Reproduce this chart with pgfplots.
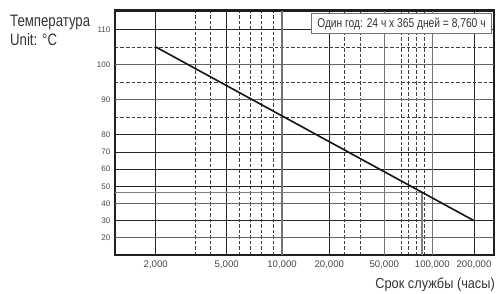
\documentclass[border=0pt]{standalone}
\usepackage{fontspec}
\setmainfont{Liberation Sans}
\newfontfamily\condfont{Liberation Sans}[FakeStretch=0.8]
\newfontfamily\condfontb{Liberation Sans}[FakeStretch=0.88]
\usepackage{pgfplots}
\pgfplotsset{compat=1.18}

\pgfplotsset{
  lifex/.style={
    x coord trafo/.code={%
      \begingroup
      \pgfkeys{/pgf/fpu=true,/pgf/fpu/output format=fixed}%
      \pgfmathparse{(##1<2000) ? (115+(##1-1000)*0.0407) :
       ((##1<3000) ? (155.7+(##1-2000)*0.0393) :
       ((##1<4000) ? (195+(##1-3000)*0.0157) :
       ((##1<5000) ? (210.7+(##1-4000)*0.016) :
       ((##1<6000) ? (226.7+(##1-5000)*0.0126) :
       ((##1<7000) ? (239.3+(##1-6000)*0.0107) :
       ((##1<8000) ? (250+(##1-7000)*0.0117) :
       ((##1<9000) ? (261.7+(##1-8000)*0.012) :
       ((##1<10000) ? (273.7+(##1-9000)*0.0083) :
       ((##1<20000) ? (282+(##1-10000)*0.00473) :
       ((##1<30000) ? (329.3+(##1-20000)*0.0015) :
       ((##1<40000) ? (344.3+(##1-30000)*0.00164) :
       ((##1<50000) ? (360.7+(##1-40000)*0.00236) :
       ((##1<60000) ? (384.3+(##1-50000)*0.00167) :
       ((##1<70000) ? (401+(##1-60000)*0.00073) :
       ((##1<80000) ? (408.3+(##1-70000)*0.00077) :
       ((##1<90000) ? (416+(##1-80000)*0.0008) :
       ((##1<100000) ? (424+(##1-90000)*0.00083) :
       ((##1<200000) ? (432.3+(##1-100000)*0.000417) :
       (474+(##1-200000)*0.0004)))))))))))))))))))))}%
      \pgfmathsmuggle\pgfmathresult
      \endgroup
    },
  },
  lifey/.style={
    y coord trafo/.code={%
      \begingroup
      \pgfkeys{/pgf/fpu=true,/pgf/fpu/output format=fixed}%
      \pgfmathparse{(##1<80) ? (##1) : (80+2.05*(##1-80))}%
      \pgfmathsmuggle\pgfmathresult
      \endgroup
    },
  },
}

\begin{document}
\begin{tikzpicture}
\useasboundingbox (0,0) rectangle (496pt,293pt);
\begin{axis}[
  lifex, lifey,
  at={(115pt,38pt)}, anchor=south west,
  scale only axis, width=379pt, height=244.3pt,
  xmin=1000, xmax=250000, ymin=10, ymax=115.3,
  xtick={2000,5000,20000,200000},
  xticklabels={{2,000},{5,000},{20,000},{200,000}},
  extra x ticks={10000,50000,100000},
  extra x tick labels={{10,000},{50,000},{100,000}},
  minor xtick={3000,4000,6000,7000,8000,9000,30000,40000,60000,70000,80000,90000},
  ytick={30,50,60,70,80,110},
  yticklabels={30,50,60,70,80,110},
  extra y ticks={20,40,90,100},
  extra y tick labels={20,40,90,100},
  minor ytick={85,95,105},
  grid=both,
  major grid style={black!85, line width=1pt},
  minor grid style={black!75, line width=0.8pt, dash pattern=on 3.5pt off 2pt},
  extra x tick style={grid=major, major grid style={black!55, line width=1.6pt}},
  extra y tick style={grid=major, major grid style={black!60, line width=1.2pt}},
  major tick length=0pt, minor tick length=0pt,
  axis line style={black!88, line width=2.6pt},
  tick label style={black!72},
  xticklabel style={font=\fontsize{9.6}{11}\selectfont, inner sep=0pt, anchor=north, yshift=-6pt},
  yticklabel style={font=\fontsize{8}{9}\selectfont, inner sep=0pt, anchor=east, xshift=-4.5pt},
  /pgf/number format/assume math mode=true,
]
\addplot[black!50, line width=1.4pt] coordinates {(1000,46.5) (87600,46.5) (87600,10)};
\addplot[black!92, line width=1.6pt] coordinates {(2000,105) (200000,30)};
\end{axis}
\node[anchor=base west, font=\condfont\fontsize{16.5}{18}\selectfont, text=black!80, inner sep=0pt] at (10pt,266.3pt) {Температура};
\node[anchor=base west, font=\condfont\fontsize{16.5}{18}\selectfont, text=black!80, inner sep=0pt] at (10pt,247.5pt) {Unit: °C};
\node[anchor=base east, font=\condfontb\fontsize{14.5}{16}\selectfont, text=black!80, inner sep=0pt] at (495pt,4.7pt) {Срок службы (часы)};
\node[draw=black!55, line width=0.8pt, fill=white, minimum width=180.3pt, minimum height=20pt, inner sep=0pt, font=\condfont\fontsize{12.8}{14}\selectfont, text=black!80, anchor=north east] at (492pt,279.7pt) {Один год: 24 ч x 365 дней = 8,760 ч};
\end{tikzpicture}
\end{document}
